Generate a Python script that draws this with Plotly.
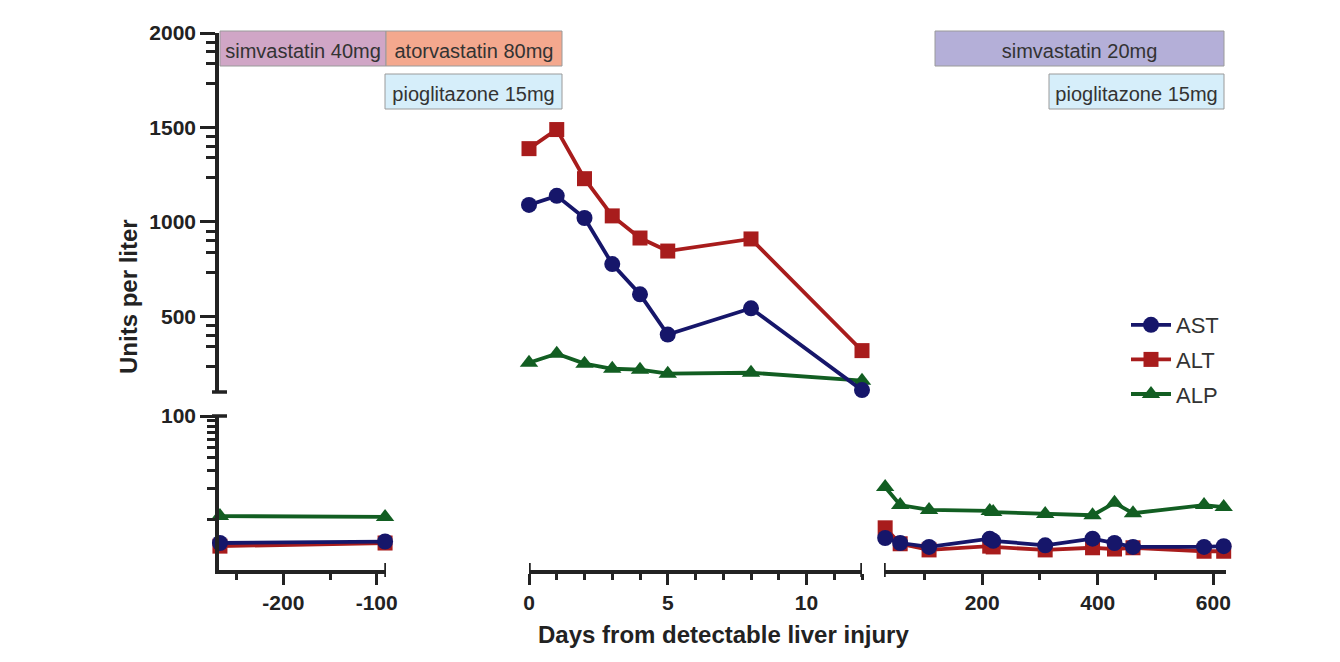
import math
import plotly.graph_objects as go

W, H = 1340, 662
OFF = 8  # default page body margin in the browser
FONT = "Liberation Sans, Arial, sans-serif"

# ---- data ----
series_names = ["AST", "ALT", "ALP"]

seg1_days = [-268, -91]
seg1_ast = [6.0, 6.2]
seg1_alt = [5.6, 6.0]
seg1_alp = [10.9, 10.7]

seg2_days = [0, 1, 2, 3, 4, 5, 8, 12]
seg2_ast = [1090, 1138, 1021, 777, 617, 404, 543, 110]
seg2_alt = [1388, 1489, 1229, 1032, 915, 846, 910, 319]
seg2_alp = [255, 303, 250, 223, 218, 197, 202, 160]

seg3_days = [32, 58, 108, 213, 219, 309, 391, 429, 461, 584, 618]
seg3_ast = [6.7, 6.0, 5.5, 6.6, 6.3, 5.7, 6.6, 6.0, 5.5, 5.5, 5.6]
seg3_alt = [8.4, 5.9, 5.15, 5.6, 5.5, 5.15, 5.4, 5.25, 5.4, 5.0, 5.0]
seg3_alp = [20.7, 13.9, 12.5, 12.2, 11.9, 11.4, 11.1, 14.6, 11.6, 13.9, 13.3]

x1_ticks = [-200, -100]
x1_labels = ["-200", "-100"]
x1_minor = [-250, -150]
x2_ticks = [0, 5, 10]
x3_ticks = [200, 400, 600]
x3_minor = [100, 300, 500]
ytop_ticks = [500, 1000, 1500, 2000]
ytop_minor = [m - d for m in [2000, 1500, 1000, 500] for d in [50, 100, 160, 265]]
ybot_ticks = [100]
ybot_minor = [10, 20, 30, 40, 50, 60, 70, 80, 90]

drug_boxes = [
    # text, x0px, x1px, y0px, y1px, fill
    ("simvastatin 40mg", 220, 386, 31, 66, "#d0a6c6"),
    ("atorvastatin 80mg", 386, 562, 31, 66, "#f4a88e"),
    ("pioglitazone 15mg", 385, 562, 74, 109, "#d6eefa"),
    ("simvastatin 20mg", 935, 1224, 31, 66, "#b4afd8"),
    ("pioglitazone 15mg", 1049, 1224, 74, 109, "#d6eefa"),
]

colors = {"AST": "#16166a", "ALT": "#a81c1c", "ALP": "#125e22"}
symbols = {"AST": "circle", "ALT": "square", "ALP": "triangle-up"}
sizes = {"AST": 16, "ALT": 15, "ALP": 16}
ranks = {"AST": 1, "ALT": 2, "ALP": 3}

def px(p):
    return (p - OFF) / W

def py(p):
    return 1 - (p - OFF) / H

fig = go.Figure()

data = {
    "AST": (seg1_ast, seg2_ast, seg3_ast),
    "ALT": (seg1_alt, seg2_alt, seg3_alt),
    "ALP": (seg1_alp, seg2_alp, seg3_alp),
}

for name in ["ALP", "ALT", "AST"]:
    s1, s2, s3 = data[name]
    for days, vals, xa, ya, show in [
        (seg1_days, s1, "x", "y", False),
        (seg2_days, s2, "x2", "y2", True),
        (seg3_days, s3, "x3", "y", False),
    ]:
        fig.add_trace(go.Scatter(
            x=days, y=vals, xaxis=xa, yaxis=ya, mode="lines+markers",
            name=name, legendgroup=name, showlegend=show, legendrank=ranks[name],
            line=dict(color=colors[name], width=3.8),
            marker=dict(color=colors[name], symbol=symbols[name], size=sizes[name], line=dict(width=0)),
            cliponaxis=False,
        ))

axis_common = dict(
    showline=True, linewidth=3.5, linecolor="#222", ticks="outside",
    tickwidth=3, tickcolor="#222", showgrid=False, zeroline=False,
    tickfont=dict(family=FONT, size=21, color="#222", weight="bold"),
    fixedrange=True, automargin=False,
)

mk = dict(ticklen=6, tickwidth=3, tickcolor="#222", ticks="outside")
x_common = dict(axis_common, ticklen=11, anchor="y")
fig.update_layout(
    xaxis=dict(x_common, domain=[px(219), px(386)], range=[-269, -90],
               tickmode="array", tickvals=x1_ticks, ticktext=x1_labels,
               minor=dict(mk, tickmode="array", tickvals=x1_minor)),
    xaxis2=dict(x_common, domain=[px(529), px(862)], range=[0, 12],
                tickmode="array", tickvals=x2_ticks,
                minor=dict(mk, dtick=1)),
    xaxis3=dict(x_common, domain=[px(884), px(1226)], range=[30, 622],
                tickmode="array", tickvals=x3_ticks,
                minor=dict(mk, tickmode="array", tickvals=x3_minor)),
    yaxis=dict(axis_common, ticklen=15, anchor="x", type="log",
               domain=[py(570), py(416)], range=[math.log10(3.3), 2],
               tickmode="array", tickvals=ybot_ticks, ticktext=[str(v) for v in ybot_ticks],
               minor=dict(mk, ticklen=8, tickmode="array", tickvals=ybot_minor)),
    yaxis2=dict(axis_common, ticklen=15, anchor="x",
                domain=[py(392), py(33)], range=[100, 2000],
                tickmode="array", tickvals=ytop_ticks,
                minor=dict(mk, ticklen=9, tickmode="array", tickvals=ytop_minor)),
)

shapes = []
cap_color = "#222"
for xref, xv in [("x", -90), ("x2", 0), ("x2", 12), ("x3", 30)]:
    shapes.append(dict(type="line", xref=xref, yref="paper", x0=xv, x1=xv,
                       y0=py(577), y1=py(563), line=dict(color=cap_color, width=3.5)))
for yp in [392, 416]:
    shapes.append(dict(type="line", xref="paper", yref="paper", x0=px(212), x1=px(227),
                       y0=py(yp), y1=py(yp), line=dict(color=cap_color, width=3.5)))
for text, x0, x1, y0, y1, fill in drug_boxes:
    shapes.append(dict(type="rect", xref="paper", yref="paper",
                       x0=px(x0), x1=px(x1), y0=py(y1), y1=py(y0),
                       fillcolor=fill, line=dict(color="#9a9a9a", width=1),
                       label=dict(text=text, textposition="middle center",
                                  font=dict(family=FONT, size=20, color="#333"))))

fig.update_layout(
    shapes=shapes,
    width=W, height=H,
    margin=dict(l=0, r=0, t=0, b=0, pad=0),
    paper_bgcolor="white", plot_bgcolor="white",
    font=dict(family=FONT, color="#222"),
    legend=dict(x=px(1126), y=py(304), xanchor="left", yanchor="top",
                font=dict(family=FONT, size=22, color="#333"),
                tracegroupgap=3, itemwidth=40, bgcolor="rgba(0,0,0,0)"),
    annotations=[
        dict(text="Days from detectable liver injury", xref="paper", yref="paper",
             x=px(723), y=py(634), xanchor="center", yanchor="middle", showarrow=False,
             font=dict(family=FONT, size=24, color="#222", weight="bold")),
        dict(text="Units per liter", xref="paper", yref="paper",
             x=px(128), y=py(297), xanchor="center", yanchor="middle", showarrow=False, textangle=-90,
             font=dict(family=FONT, size=24, color="#222", weight="bold")),
    ],
)

fig.write_html("out.html")
